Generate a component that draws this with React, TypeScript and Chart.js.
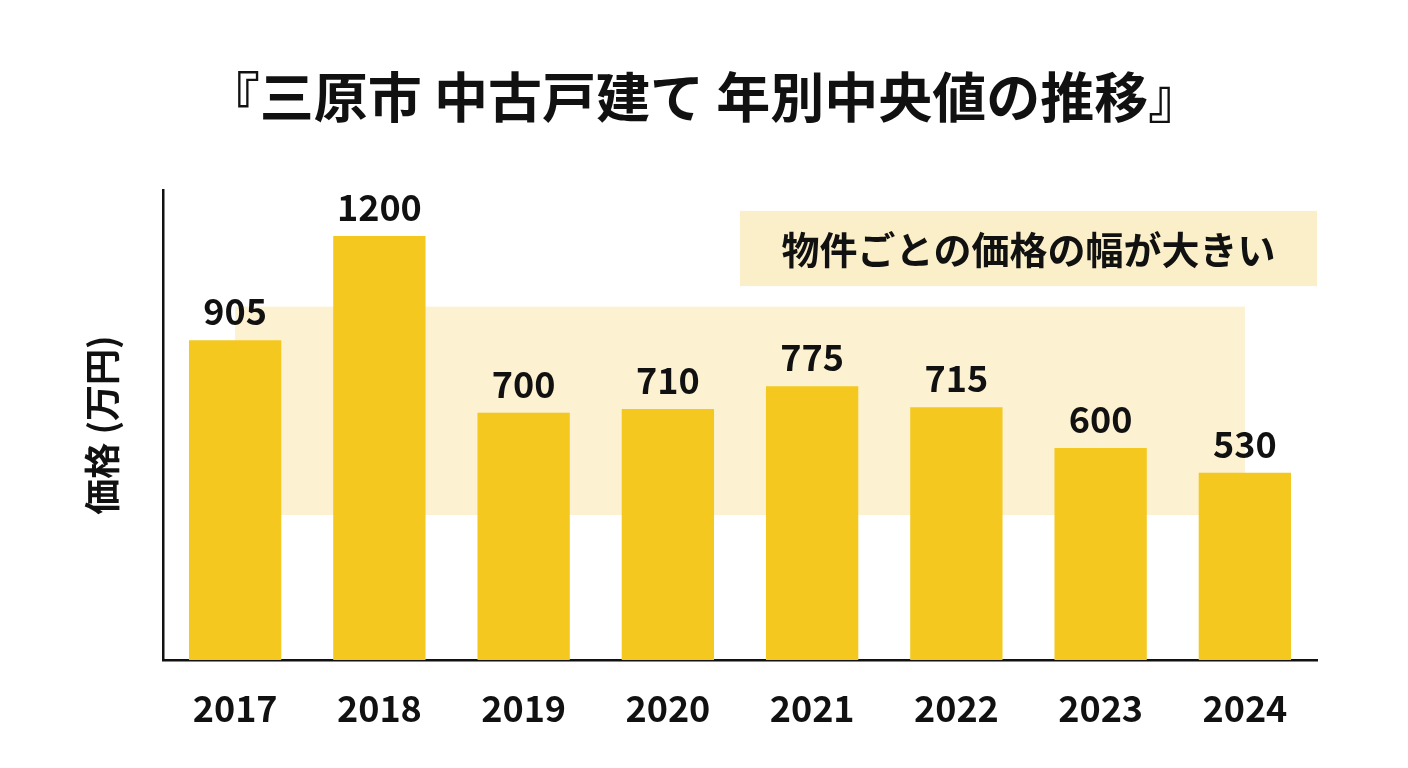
import React, { useEffect, useRef } from "react";
import { Chart, registerables } from "chart.js";

Chart.register(...registerables);

const years = ["2017", "2018", "2019", "2020", "2021", "2022", "2023", "2024"];
const medianPrices = [905, 1200, 700, 710, 775, 715, 600, 530];
const yAxisRange = [0, 1330];
const bandValueRange = [410, 1000];
const bandIndexRange = [0, 7];
const noteValueRange = [1058, 1271];
const noteIndexRange = [3.5, 7.5];
const titleText = "『三原市 中古戸建て 年別中央値の推移』";
const yAxisTitle = "価格 (万円)";
const noteText = "物件ごとの価格の幅が大きい";

const FONT = '"Noto Sans CJK JP", "Noto Sans", sans-serif';
const BAR_COLOR = "#F4C81F";
const BAND_COLOR = "#FCF1D0";
const NOTE_COLOR = "#FAEFC8";
const INK = "#111111";

const backdropPlugin = {
  id: "backdrop",
  beforeDatasetsDraw(chart: any) {
    const { ctx, scales } = chart;
    const x = scales.x;
    const y = scales.y;
    ctx.save();
    const bx0 = x.getPixelForValue(bandIndexRange[0]);
    const bx1 = x.getPixelForValue(bandIndexRange[1]);
    const by0 = y.getPixelForValue(bandValueRange[1]);
    const by1 = y.getPixelForValue(bandValueRange[0]);
    ctx.fillStyle = BAND_COLOR;
    ctx.fillRect(bx0, by0, bx1 - bx0, by1 - by0);
    const nx0 = x.getPixelForValue(noteIndexRange[0]);
    const nx1 = x.getPixelForValue(noteIndexRange[1]);
    const ny0 = y.getPixelForValue(noteValueRange[1]);
    const ny1 = y.getPixelForValue(noteValueRange[0]);
    ctx.fillStyle = NOTE_COLOR;
    ctx.fillRect(nx0, ny0, nx1 - nx0, ny1 - ny0);
    ctx.fillStyle = INK;
    ctx.font = `bold 38px ${FONT}`;
    ctx.textAlign = "center";
    ctx.textBaseline = "middle";
    ctx.fillText(noteText, (nx0 + nx1) / 2, (ny0 + ny1) / 2 + 1);
    ctx.restore();
  },
};

const valueLabelPlugin = {
  id: "valueLabels",
  afterDatasetsDraw(chart: any) {
    const { ctx } = chart;
    const meta = chart.getDatasetMeta(0);
    ctx.save();
    ctx.fillStyle = INK;
    ctx.font = `bold 36px ${FONT}`;
    ctx.textAlign = "center";
    ctx.textBaseline = "alphabetic";
    meta.data.forEach((bar: any, i: number) => {
      ctx.fillText(String(medianPrices[i]), bar.x, bar.y - 15);
    });
    ctx.restore();
  },
};

const titlePlugin = {
  id: "mainTitle",
  afterDraw(chart: any) {
    const { ctx } = chart;
    ctx.save();
    ctx.fillStyle = INK;
    ctx.font = `bold 54px ${FONT}`;
    ctx.textAlign = "center";
    ctx.textBaseline = "middle";
    ctx.fillText(titleText, 704, 97);
    ctx.restore();
  },
};

export default function App() {
  const canvasRef = useRef<HTMLCanvasElement | null>(null);

  useEffect(() => {
    if (!canvasRef.current) return;
    const chart = new Chart(canvasRef.current, {
      type: "bar",
      data: {
        labels: years,
        datasets: [
          {
            data: medianPrices,
            backgroundColor: BAR_COLOR,
            borderWidth: 0,
            barPercentage: 0.64,
            categoryPercentage: 1.0,
          },
        ],
      },
      options: {
        responsive: false,
        animation: false,
        devicePixelRatio: 1,
        layout: { padding: { top: 190, left: 0, right: 91, bottom: 0 } },
        plugins: {
          legend: { display: false },
          tooltip: { enabled: false },
          title: { display: false },
        },
        scales: {
          x: {
            grid: { display: false, drawTicks: false },
            border: { display: true, color: INK, width: 2.5 },
            ticks: {
              color: INK,
              font: { family: FONT, size: 36, weight: "bold" },
              padding: 27,
              maxRotation: 0,
            },
            afterFit(scale: any) {
              scale.height = 108;
            },
          },
          y: {
            min: yAxisRange[0],
            max: yAxisRange[1],
            grid: { display: false, drawTicks: false },
            border: { display: true, color: INK, width: 2.5 },
            ticks: { display: false },
            title: {
              display: true,
              text: yAxisTitle,
              color: INK,
              font: { family: FONT, size: 36, weight: "bold" },
              padding: { top: 81, bottom: 0 },
            },
            afterFit(scale: any) {
              scale.width = 163;
            },
          },
        },
      },
      plugins: [backdropPlugin, valueLabelPlugin, titlePlugin],
    });
    return () => chart.destroy();
  }, []);

  return (
    <div
      style={{
        position: "absolute",
        left: 0,
        top: 0,
        width: 1408,
        height: 768,
        background: "#ffffff",
      }}
    >
      <canvas ref={canvasRef} width={1408} height={768} />
    </div>
  );
}
